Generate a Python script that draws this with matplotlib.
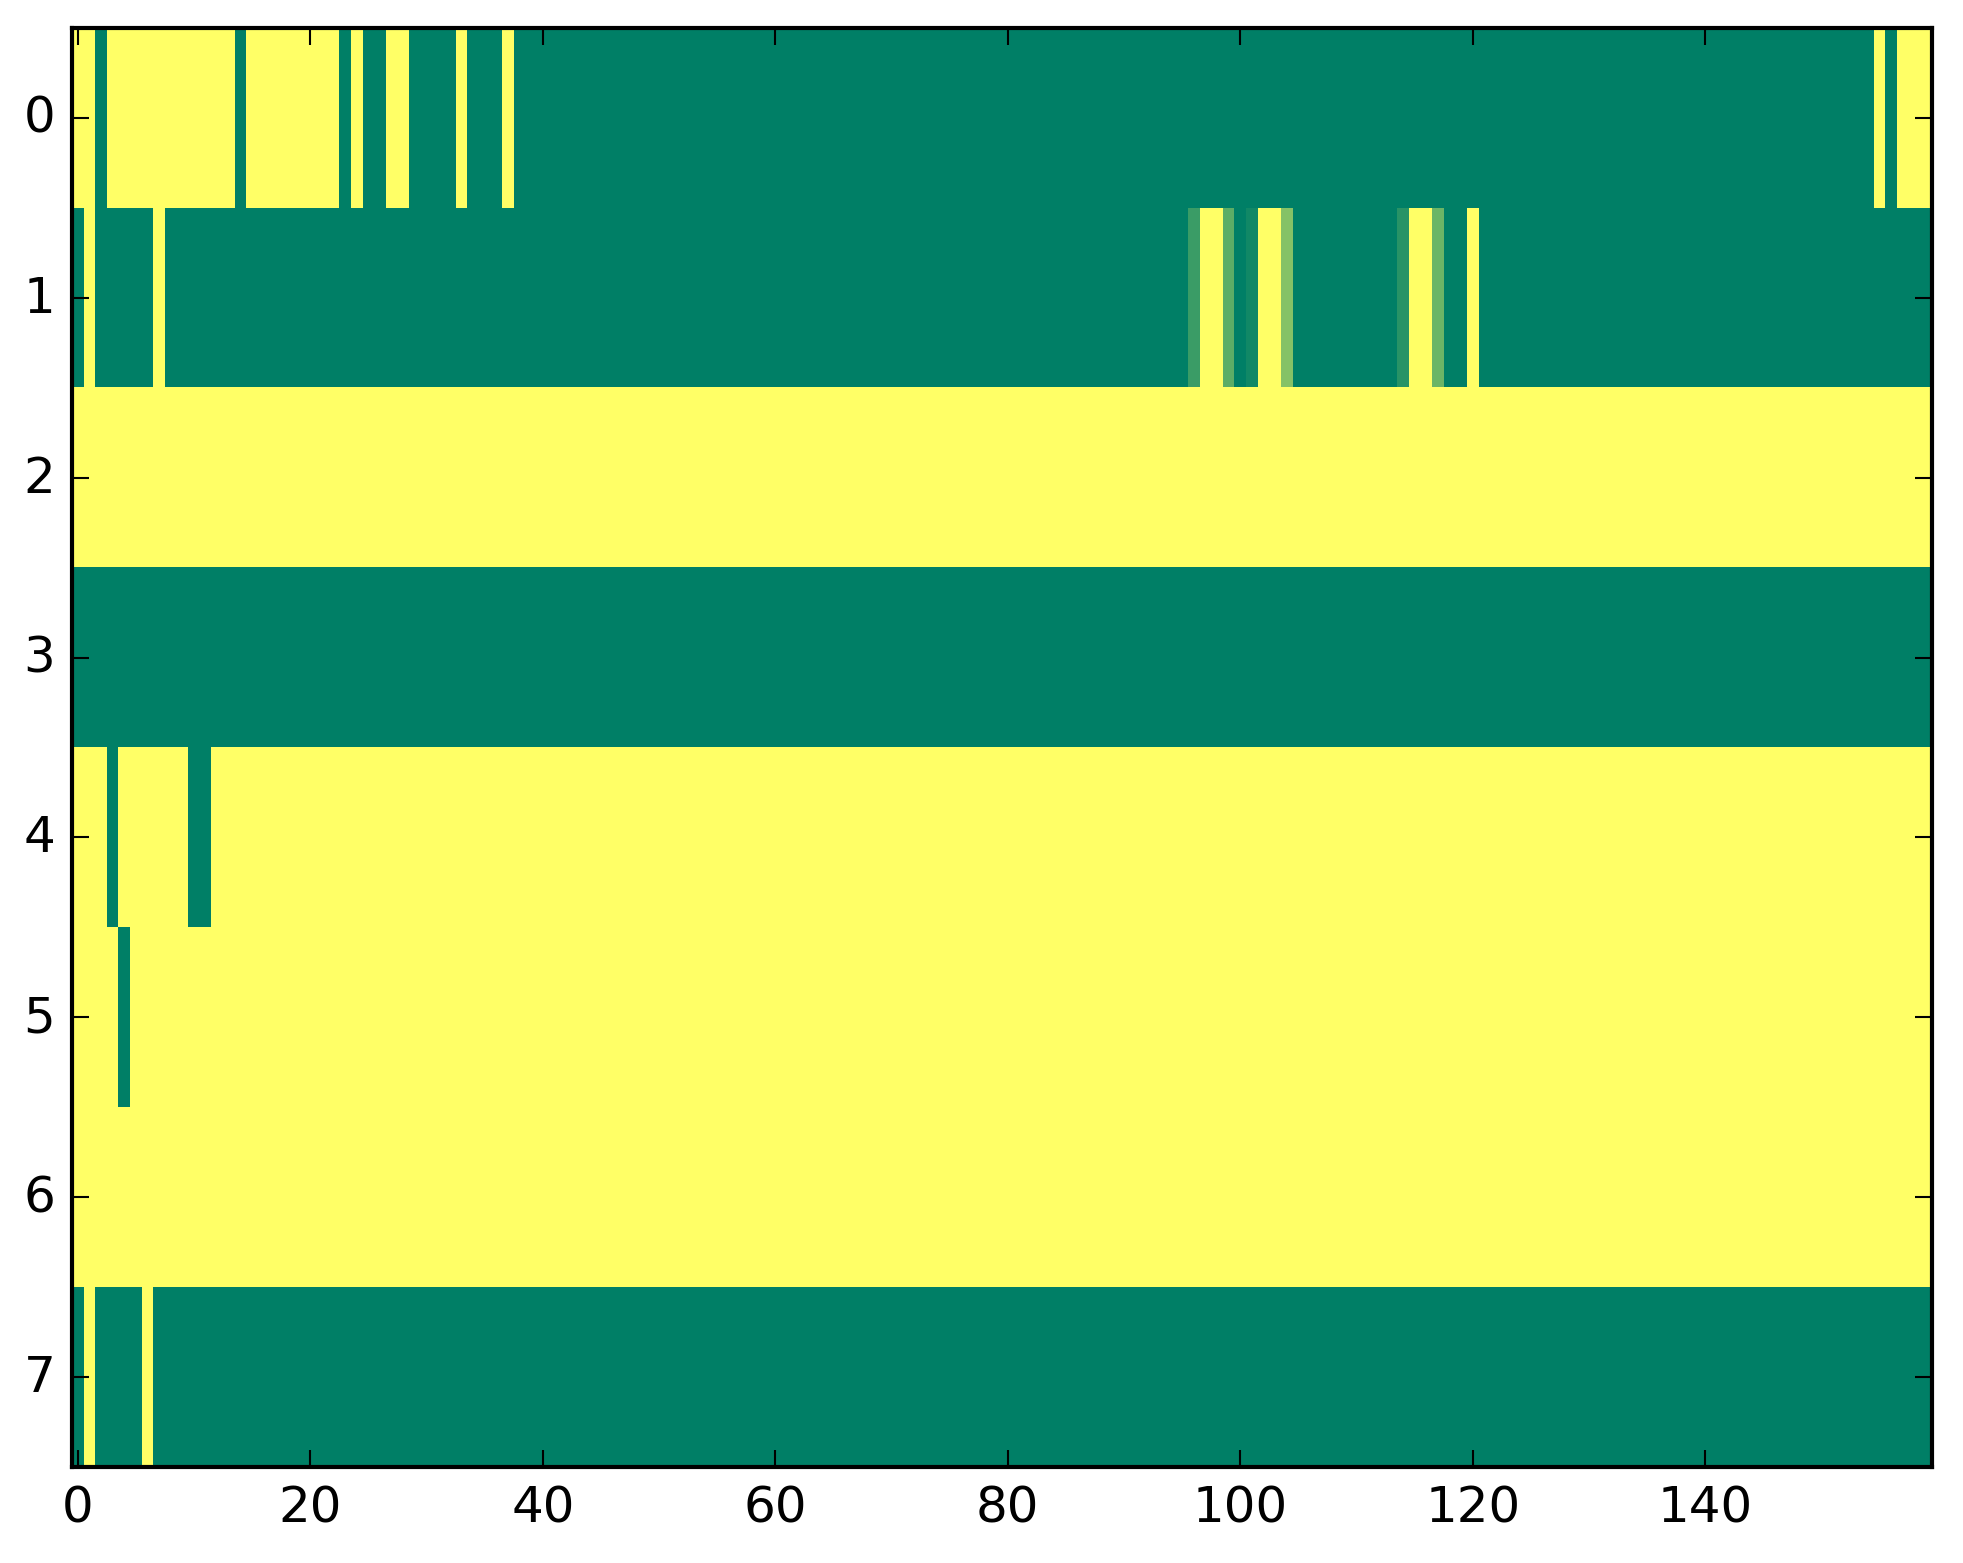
import numpy as np
import matplotlib
matplotlib.use("Agg")
import matplotlib.pyplot as plt

plt.style.use("classic")

n_cols = 160

# base value of every row (0 = green end, 1 = yellow end of 'summer')
row_base = [0, 0, 1, 0, 1, 1, 1, 0]

# columns that take the other end of the scale, per row
row0_flip = [0, 1] + list(range(3, 14)) + list(range(15, 23)) + [24, 27, 28, 33, 37, 155, 157, 158, 159]
row1_flip = [1, 7, 97, 98, 102, 103, 115, 116, 120]
row4_flip = [3, 10, 11]
row5_flip = [4]
row7_flip = [1, 6]
flips = {0: row0_flip, 1: row1_flip, 4: row4_flip, 5: row5_flip, 7: row7_flip}

# in-between values seen in row 1
row1_mid_cols = [96, 99, 101, 104, 114, 117]
row1_mid_vals = [0.23, 0.36, 0.07, 0.52, 0.16, 0.42]

data = np.array([[float(b)] * n_cols for b in row_base])
for r, cols in flips.items():
    for c in cols:
        data[r, c] = 1.0 - row_base[r]
for c, v in zip(row1_mid_cols, row1_mid_vals):
    data[1, c] = v

fig = plt.figure(figsize=(1963 / 300, 1564 / 300), dpi=300)
ax = fig.add_axes([72 / 1963, 1 - 1468 / 1564, (1932 - 72) / 1963, (1468 - 29) / 1564])
ax.imshow(data, cmap="summer", vmin=0, vmax=1, aspect="auto", interpolation="nearest")
ax.set_xlim(-0.5, n_cols - 0.5)
ax.set_ylim(len(row_base) - 0.5, -0.5)

fig.savefig("out.png", dpi=300)
